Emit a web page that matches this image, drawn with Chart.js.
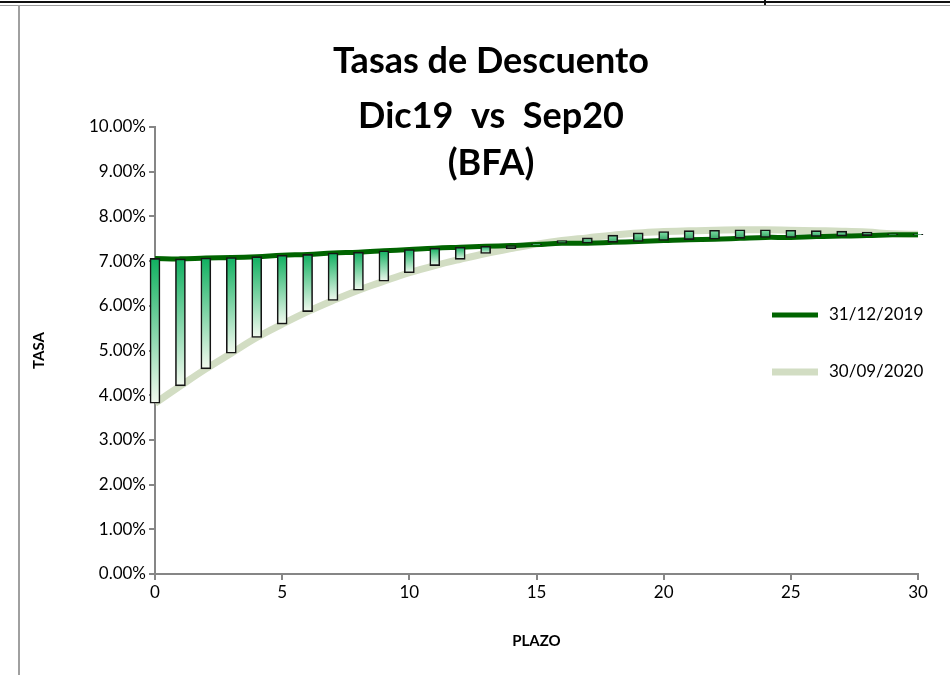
<!DOCTYPE html>
<html>
<head>
<meta charset="utf-8">
<script src="https://cdn.jsdelivr.net/npm/chart.js@4.4.0/dist/chart.umd.min.js"></script>
<style>
  html, body { margin: 0; padding: 0; background: #fff; }
  #wrap { position: relative; width: 950px; height: 675px; overflow: hidden; }
  #chart { position: absolute; left: 0; top: 0; }
  /* spreadsheet borders around the chart */
  .topBlack { position: absolute; left: 0; top: 1px; width: 950px; height: 2px; background: #111; }
  .topGray { position: absolute; left: 0; top: 5px; width: 950px; height: 1px; background: #9a9a9a; }
  .leftGray { position: absolute; left: 18px; top: 5px; width: 2px; height: 670px; background: #a0a0a0; }
  .topTick { position: absolute; left: 764px; top: 0; width: 2px; height: 5px; background: #111; }
</style>
</head>
<body>
<div id="wrap">
  <canvas id="chart" width="950" height="675"></canvas>
  <div class="topBlack"></div>
  <div class="topGray"></div>
  <div class="leftGray"></div>
  <div class="topTick"></div>
</div>
<script>
// Plazo (years) 0..30
const plazo = [0, 1, 2, 3, 4, 5, 6, 7, 8, 9, 10, 11, 12, 13, 14, 15,
  16, 17, 18, 19, 20, 21, 22, 23, 24, 25, 26, 27, 28, 29, 30];

// 31/12/2019 curve (%)
const dic19 = [7.06, 7.05, 7.07, 7.08, 7.10, 7.13, 7.15, 7.18, 7.20, 7.23, 7.26,
  7.29, 7.31, 7.33, 7.35, 7.37, 7.40, 7.40, 7.42, 7.44, 7.46,
  7.48, 7.49, 7.51, 7.53, 7.53, 7.55, 7.56, 7.57, 7.59, 7.59];

// 30/09/2020 curve (%)
const sep20 = [3.82, 4.21, 4.59, 4.94, 5.29, 5.59, 5.87, 6.12, 6.35, 6.55, 6.74,
  6.90, 7.04, 7.17, 7.28, 7.38, 7.46, 7.52, 7.58, 7.63, 7.66,
  7.68, 7.69, 7.70, 7.70, 7.69, 7.68, 7.67, 7.65, 7.61, 7.60];

const seriesNames = ['31/12/2019', '30/09/2020'];
const titleLines = ['Tasas de Descuento', 'Dic19  vs  Sep20', '(BFA)'];

const FONT = 'Lato, Calibri, "Liberation Sans", sans-serif';
const AXIS_GRAY = '#868686';

// Gradient fill for the up/down bars between both curves
function barFill(context) {
  if (context.type !== 'data') return '#00b050';
  const chart = context.chart;
  const yScale = chart.scales.y;
  if (!chart.chartArea || !yScale) return '#00b050';
  const i = context.dataIndex;
  const hi = Math.max(dic19[i], sep20[i]);
  const lo = Math.min(dic19[i], sep20[i]);
  const top = yScale.getPixelForValue(hi);
  const bot = yScale.getPixelForValue(lo);
  const g = chart.ctx.createLinearGradient(0, top, 0, bot + 0.5);
  if (dic19[i] >= sep20[i]) {
    g.addColorStop(0, '#10b060');
    g.addColorStop(1, '#f4faf0');
  } else {
    g.addColorStop(0, '#7fe2aa');
    g.addColorStop(1, '#2f9e5c');
  }
  return g;
}

// Title overlaid on the plot, like the original sheet
const overlayTitle = {
  id: 'overlayTitle',
  afterDraw(chart) {
    const ctx = chart.ctx;
    ctx.save();
    ctx.fillStyle = '#000';
    ctx.font = 'bold 36px ' + FONT;
    ctx.textAlign = 'center';
    ctx.textBaseline = 'middle';
    const cy = [61, 116, 163];
    titleLines.forEach((t, k) => ctx.fillText(t, 491, cy[k]));
    ctx.restore();
  }
};

// Legend drawn inside the plot area on the right
const innerLegend = {
  id: 'innerLegend',
  afterDraw(chart) {
    const ctx = chart.ctx;
    ctx.save();
    ctx.font = '17px ' + FONT;
    ctx.textBaseline = 'middle';
    ctx.textAlign = 'left';
    const rows = [315, 372];
    [1, 2].forEach((dsIndex, k) => {
      const ds = chart.data.datasets[dsIndex];
      ctx.strokeStyle = ds.borderColor;
      ctx.lineWidth = ds.borderWidth;
      ctx.beginPath();
      ctx.moveTo(772, rows[k]);
      ctx.lineTo(818, rows[k]);
      ctx.stroke();
      ctx.fillStyle = '#000';
      ctx.fillText(ds.label, 829, rows[k]);
    });
    ctx.restore();
  }
};

const ctx = document.getElementById('chart').getContext('2d');
const chart = new Chart(ctx, {
  type: 'line',
  data: {
    datasets: [
      {
        type: 'bar',
        label: 'updown',
        data: plazo.map((x, i) => ({ x: x, y: [sep20[i], dic19[i]] })),
        backgroundColor: barFill,
        borderColor: '#151515',
        borderWidth: 1.6,
        borderSkipped: false,
        barThickness: 10,
        clip: false,
        order: 0
      },
      {
        label: seriesNames[0],
        data: plazo.map((x, i) => ({ x: x, y: dic19[i] })),
        borderColor: '#006400',
        borderWidth: 5,
        pointRadius: 0,
        tension: 0.4,
        fill: false,
        order: 1
      },
      {
        label: seriesNames[1],
        data: plazo.map((x, i) => ({ x: x, y: sep20[i] })),
        borderColor: '#d2ddc3',
        borderWidth: 7,
        pointRadius: 0,
        tension: 0.4,
        fill: false,
        order: 2
      }
    ]
  },
  options: {
    responsive: false,
    animation: false,
    events: [],
    layout: { padding: { left: 20, top: 127, right: 32, bottom: 21 } },
    plugins: {
      legend: { display: false },
      title: { display: false },
      tooltip: { enabled: false }
    },
    scales: {
      x: {
        type: 'linear',
        min: 0,
        max: 30,
        offset: false,
        afterFit(scale) { scale.height = 80; },
        ticks: { stepSize: 5, color: '#000', font: { family: FONT, size: 17 }, padding: 2 },
        grid: { offset: false, drawOnChartArea: false, drawTicks: true, tickLength: 6, color: AXIS_GRAY, lineWidth: 2 },
        border: { color: AXIS_GRAY, width: 2 },
        title: { display: true, text: 'PLAZO', color: '#000', font: { family: FONT, size: 15, weight: 'bold' }, padding: { top: 4, bottom: 4 } }
      },
      y: {
        min: 0,
        max: 10,
        afterFit(scale) { scale.width = 135; },
        ticks: {
          stepSize: 1,
          color: '#000',
          font: { family: FONT, size: 17 },
          padding: 3,
          callback: v => v.toFixed(2) + '%'
        },
        grid: { offset: false, drawOnChartArea: false, drawTicks: true, tickLength: 6, color: AXIS_GRAY, lineWidth: 2 },
        border: { color: AXIS_GRAY, width: 2 },
        title: { display: true, text: 'TASA', color: '#000', font: { family: FONT, size: 15, weight: 'bold' }, padding: { top: 10, bottom: 4 } }
      }
    }
  },
  plugins: [overlayTitle, innerLegend]
});
</script>
</body>
</html>
